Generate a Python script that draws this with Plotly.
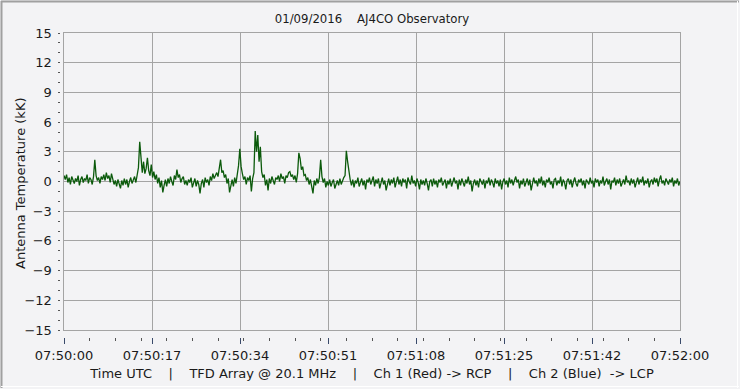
import pandas as pd
import plotly.graph_objects as go

# ---------------- data ----------------
start_time = "2016-01-09 07:50:00"
sample_step = "250ms"
tick_labels = ["07:50:00", "07:50:17", "07:50:34", "07:50:51",
               "07:51:08", "07:51:25", "07:51:42", "07:52:00"]
y_tick_vals = [-15, -12, -9, -6, -3, 0, 3, 6, 9, 12, 15]

antenna_temp_kk = [
    0.6, 0.2, 0.7, -0.1, 0.4, -0.3, 0.5, 0.1,
    -0.2, 0.3, 0.0, 0.6, -0.4, 0.2, 0.5, -0.1,
    0.3, 0.1, 0.7, -0.2, 0.4, 0.2, -0.3, 0.5,
    2.2, 0.6, 0.1, 0.4, -0.2, 0.5, 0.2, 0.7,
    0.1, 0.9, 0.3, 0.6, -0.1, 0.8, 0.2, -0.3,
    0.1, -0.5, 0.2, -0.2, -0.7, 0.1, -0.4, 0.3,
    -0.3, 0.2, -0.6, 0.0, 0.4, -0.2, 0.1, 0.5,
    -0.1, 0.6, 1.4, 4.0, 2.1, 0.9, 2.0, 0.8,
    1.3, 2.4, 1.1, 0.6, 1.7, 0.4, 1.0, 0.2,
    0.7, -0.2, 0.4, -0.6, 0.1, -1.1, -0.4, 0.2,
    -0.5, 0.3, -0.2, 0.5, 0.0, -0.4, 0.6, 0.2,
    1.2, 0.4, 0.7, -0.1, 0.3, 0.5, -0.3, 0.1,
    -0.4, 0.2, -0.1, 0.4, -0.6, 0.0, 0.3, -0.5,
    0.1, -0.3, -1.2, -0.2, 0.2, -0.6, 0.4, -0.1,
    0.2, -0.4, 0.5, 0.1, 0.8, 0.3, 0.6, 0.9,
    0.5, 1.4, 2.2, 0.9, 1.1, 0.4, 0.7, -0.2,
    0.3, -1.1, -0.3, 0.2, -0.5, 0.4, -0.2, 0.6,
    1.6, 3.3, 1.5, 0.8, 0.2, 0.5, -0.3, 0.4,
    0.1, 0.6, -1.0, 0.3, 0.9, 5.1, 3.0, 4.7,
    2.0, 3.5, 1.0, 0.4, 0.7, -0.4, 0.2, -0.9,
    0.3, -0.2, 0.5, 0.1, -0.3, 0.4, 0.2, 0.6,
    0.0, 0.8, 0.3, 0.5, -0.2, 0.6, 0.4, 0.9,
    1.0, 0.5, 0.7, 0.2, 0.6, -0.1, 0.8, 2.9,
    2.3, 1.2, 1.5, 0.6, 0.7, 0.1, 0.4, -0.3,
    0.2, -0.5, -1.2, 0.1, -0.4, 0.3, -0.2, 0.4,
    2.2, 0.5, -0.1, 0.3, -0.6, 0.0, -0.4, 0.2,
    -0.5, -0.1, 0.2, -0.7, -0.2, 0.1, -0.4, 0.3,
    -0.3, 0.1, 0.4, 0.6, 3.1, 2.0, 0.8, 0.2,
    -0.4, 0.2, -0.6, 0.1, -0.2, 0.4, -0.5, 0.0,
    0.3, -0.4, 0.1, -0.8, 0.2, -0.1, 0.4, -0.3,
    0.1, 0.5, -0.5, 0.2, -0.2, 0.3, -0.7, 0.0,
    0.4, -0.3, 0.1, -0.9, -0.1, 0.3, -0.4, 0.2,
    -0.2, 0.4, -0.6, 0.1, 0.5, -0.3, 0.2, -0.5,
    0.3, -0.1, 0.2, -0.7, 0.4, 0.0, -0.3, 0.6,
    -0.2, 0.1, -0.5, 0.3, -0.1, -0.8, 0.2, -0.3,
    0.1, -0.4, 0.3, -0.2, -0.9, 0.0, 0.2, -0.5,
    0.3, -0.3, 0.1, -0.6, 0.2, -0.1, 0.4, -0.4,
    -0.1, 0.2, -0.7, 0.1, -0.3, 0.3, -0.5, 0.0,
    0.4, -0.2, 0.1, -0.8, 0.2, -0.4, 0.3, -0.1,
    -0.5, 0.2, -0.2, 0.5, -0.3, 0.1, -1.0, -0.2,
    0.2, -0.4, 0.1, -0.6, 0.3, 0.0, -0.3, 0.2,
    -0.7, 0.1, -0.2, 0.4, -0.4, 0.2, -0.1, -0.6,
    0.3, -0.2, 0.1, -0.5, 0.2, -0.8, 0.0, 0.3,
    -0.3, 0.1, -0.6, 0.4, -0.2, 0.2, -0.4, 0.1,
    0.5, -0.1, 0.2, -0.7, 0.1, -0.3, 0.3, -0.5,
    0.0, 0.3, -0.4, 0.2, -0.9, -0.1, 0.4, -0.2,
    0.1, -0.5, 0.3, -0.2, 0.5, -0.4, 0.1, -0.6,
    0.2, -0.1, 0.4, -0.3, 0.0, -0.7, 0.2, 0.3,
    -0.4, 0.1, -0.2, 0.5, -0.5, 0.2, -0.1, -0.8,
    0.1, 0.3, -0.3, 0.2, -0.6, 0.0, 0.4, -0.2,
    -0.5, 0.2, -0.1, 0.3, -0.4, 0.1, -0.7, 0.2,
    0.0, -0.3, 0.4, -0.2, 0.1, -0.6, 0.3, -0.1,
    0.2, -0.5, 0.1, -0.2, 0.5, -0.4, 0.0, 0.3,
    -0.3, 0.2, -0.8, 0.1, -0.1, 0.4, -0.4, 0.2,
    -0.2, 0.3, -0.5, 0.0, 0.2, -0.3, 0.6, -0.1,
    0.1, -0.4, 0.3, -0.2, 0.2, -0.6, 0.1, 0.4,
    -0.3, 0.2, -0.1, 0.5, -0.4, 0.1, -0.2, 0.3,
    -0.6, 0.0, 0.2, -0.3, 0.4, -0.1, 0.3, -0.5,
    0.2, 0.6, -0.2, 0.1, -0.4, 0.3, 0.0, -0.3,
    0.2, -0.1, 0.4, -0.5, 0.1, -0.2, 0.3, -0.4,
    0.0,
]

title_text = "01/09/2016&nbsp;&nbsp;&nbsp;&nbsp;AJ4CO Observatory"
x_title = ("Time UTC&nbsp;&nbsp;&nbsp;&nbsp;|&nbsp;&nbsp;&nbsp;&nbsp;TFD Array @ 20.1 MHz"
           "&nbsp;&nbsp;&nbsp;&nbsp;|&nbsp;&nbsp;&nbsp;&nbsp;Ch 1 (Red) -&gt; RCP"
           "&nbsp;&nbsp;&nbsp;&nbsp;|&nbsp;&nbsp;&nbsp;&nbsp;Ch 2 (Blue)&nbsp;&nbsp;-&gt; LCP")
y_title = "Antenna Temperature (kK)"

# ---------------- build ----------------
times = pd.date_range(start_time, periods=len(antenna_temp_kk), freq=sample_step)
t0 = times[0]
t1 = times[-1]
span = t1 - t0
tick_vals = [t0 + span * k / (len(tick_labels) - 1) for k in range(len(tick_labels))]

W, H = 740, 389
ML, MR, MT, MB = 56, 60, 33, 47
plot_w = W - ML - MR
plot_h = H - MT - MB
axis_left_px = 64
axis_bottom_px = 330
x_dom0 = (axis_left_px - ML) / plot_w
y_dom0 = (H - MB - axis_bottom_px) / plot_h
xtick_pos = (H - MB - 336.5) / plot_h
ytick_pos = (59.5 - ML) / plot_w


def px_to_paper_x(px):
    return (px - ML) / plot_w


def px_to_paper_y(py):
    return (H - MB - py) / plot_h


BG = "#f3f3f5"
GRID = "#a4a4a4"
TXT = "#1a1a1a"
FONT = "DejaVu Sans, Verdana, sans-serif"
FS = 13

fig = go.Figure()
fig.add_trace(go.Scatter(
    x=times, y=antenna_temp_kk, mode="lines",
    line=dict(color="#0b5a0b", width=1.3),
    xaxis="x", yaxis="y", showlegend=False, hoverinfo="skip",
))
# invisible helper trace for the offset tick axes
fig.add_trace(go.Scatter(
    x=[times[0]], y=[0], mode="markers", marker=dict(opacity=0),
    xaxis="x2", yaxis="y2", showlegend=False, hoverinfo="skip",
))

fig.update_layout(
    template="none",
    width=W, height=H,
    margin=dict(l=ML, r=MR, t=MT, b=MB, autoexpand=False),
    paper_bgcolor=BG, plot_bgcolor=BG,
    font=dict(family=FONT, size=FS, color=TXT),
    showlegend=False,
    title=dict(text=title_text, x=(axis_left_px + (W - MR - axis_left_px) / 2) / W,
               xanchor="center", y=1 - 18 / H, yanchor="middle",
               font=dict(family="Liberation Sans Narrow, DejaVu Sans Condensed, sans-serif",
                         size=13, color=TXT)),
    xaxis=dict(
        type="date", range=[t0, t1], domain=[x_dom0, 1], anchor="y",
        tickvals=tick_vals, showticklabels=False, ticks="", automargin=False,
        showgrid=True, gridcolor=GRID, gridwidth=1,
        showline=True, linecolor=GRID, linewidth=1, mirror=True,
        zeroline=False,
    ),
    yaxis=dict(
        range=[-15, 15], domain=[y_dom0, 1], anchor="x",
        tickvals=y_tick_vals, showticklabels=False, ticks="", automargin=False,
        showgrid=True, gridcolor=GRID, gridwidth=1,
        showline=True, linecolor=GRID, linewidth=1, mirror=True,
        zeroline=False,
    ),
    xaxis2=dict(
        type="date", range=[t0, t1], domain=[x_dom0, 1],
        anchor="free", position=xtick_pos, overlaying="x", automargin=False,
        tickvals=tick_vals, ticktext=tick_labels,
        ticks="outside", ticklen=6, tickwidth=1, tickcolor="#3a4a6a",
        minor=dict(ticks="outside", ticklen=3, tickwidth=1, tickcolor="#555555",
                   nticks=6),
        showgrid=False, showline=False, zeroline=False,
        ticklabelstandoff=1,
        tickfont=dict(family=FONT, size=FS, color=TXT),
        title=dict(text=x_title, standoff=6,
                   font=dict(family=FONT, size=FS, color=TXT)),
    ),
    yaxis2=dict(
        range=[-15, 15], domain=[y_dom0, 1],
        anchor="free", position=ytick_pos, overlaying="y", automargin=False,
        tickvals=y_tick_vals, ticks="outside", ticklen=2, tickwidth=1,
        tickcolor="#555555",
        minor=dict(ticks="outside", ticklen=2, tickwidth=1, tickcolor="#555555",
                   dtick=1),
        showgrid=False, showline=False, zeroline=False,
        ticklabelstandoff=3,
        tickfont=dict(family=FONT, size=FS, color=TXT),
    ),
)

fig.add_annotation(
    text=y_title, xref="paper", yref="paper",
    x=px_to_paper_x(20), y=px_to_paper_y(184),
    xanchor="center", yanchor="middle", textangle=-90, showarrow=False,
    font=dict(family=FONT, size=FS, color=TXT),
)

# outer sunken frame
fig.add_shape(type="line", xref="paper", yref="paper",
              x0=px_to_paper_x(1.5), x1=px_to_paper_x(1.5),
              y0=px_to_paper_y(1), y1=px_to_paper_y(388),
              line=dict(color="#a0a0a0", width=2))
fig.add_shape(type="line", xref="paper", yref="paper",
              x0=px_to_paper_x(1), x1=px_to_paper_x(739),
              y0=px_to_paper_y(1.5), y1=px_to_paper_y(1.5),
              line=dict(color="#a0a0a0", width=2))
fig.add_shape(type="line", xref="paper", yref="paper",
              x0=px_to_paper_x(737.5), x1=px_to_paper_x(737.5),
              y0=px_to_paper_y(1), y1=px_to_paper_y(388),
              line=dict(color="#ffffff", width=1))
fig.add_shape(type="line", xref="paper", yref="paper",
              x0=px_to_paper_x(1), x1=px_to_paper_x(739),
              y0=px_to_paper_y(386.5), y1=px_to_paper_y(386.5),
              line=dict(color="#ffffff", width=1))

fig.write_html(
    "out.html",
    config={"displayModeBar": False},
    post_script="document.body.style.margin='0';document.body.style.padding='0';"
                "document.documentElement.style.overflow='hidden';",
)
